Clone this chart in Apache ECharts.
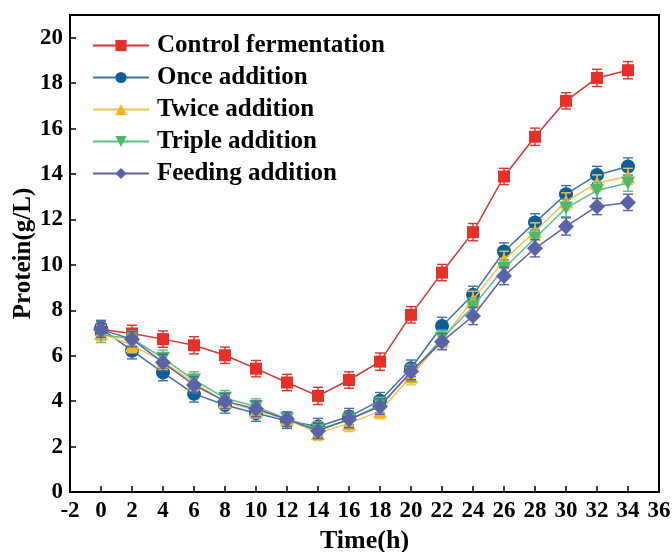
<!DOCTYPE html>
<html>
<head>
<meta charset="utf-8">
<script src="https://cdn.jsdelivr.net/npm/echarts@6/dist/echarts.min.js"></script>
<style>
  html, body { margin: 0; padding: 0; background: #fff; }
  #chart { width: 672px; height: 552px; }
</style>
</head>
<body>
<div id="chart"></div>
<script>
// Sampling times (h)
const times = [0, 2, 4, 6, 8, 10, 12, 14, 16, 18, 20, 22, 24, 26, 28, 30, 32, 34];
const xTicks = [-2, 0, 2, 4, 6, 8, 10, 12, 14, 16, 18, 20, 22, 24, 26, 28, 30, 32, 34, 36];
const yTicks = [0, 2, 4, 6, 8, 10, 12, 14, 16, 18, 20];

const seriesNames = ['Control fermentation', 'Once addition', 'Twice addition', 'Triple addition', 'Feeding addition'];

// Protein concentration (g/L)
const controlMean = [7.15, 6.98, 6.73, 6.46, 6.02, 5.43, 4.82, 4.23, 4.93, 5.74, 7.80, 9.66, 11.44, 13.89, 15.64, 17.22, 18.23, 18.57];
const onceMean    = [7.20, 6.22, 5.26, 4.32, 3.83, 3.47, 3.14, 2.88, 3.32, 4.02, 5.45, 7.31, 8.68, 10.59, 11.87, 13.11, 13.96, 14.33];
const twiceMean   = [7.00, 6.47, 5.74, 4.82, 3.98, 3.60, 3.20, 2.60, 3.02, 3.56, 5.08, 6.70, 8.46, 10.22, 11.47, 12.79, 13.60, 13.89];
const tripleMean  = [6.92, 6.75, 5.89, 4.93, 4.13, 3.76, 3.22, 2.76, 3.17, 3.83, 5.23, 6.77, 8.16, 9.85, 11.17, 12.50, 13.27, 13.60];
const feedingMean = [7.15, 6.73, 5.70, 4.71, 4.00, 3.66, 3.20, 2.69, 3.20, 3.76, 5.30, 6.62, 7.75, 9.51, 10.73, 11.69, 12.57, 12.75];

// Standard deviations (g/L)
const controlSd = [0.38, 0.36, 0.36, 0.38, 0.36, 0.36, 0.36, 0.38, 0.36, 0.38, 0.36, 0.36, 0.38, 0.36, 0.38, 0.36, 0.38, 0.38];
const onceSd    = [0.36, 0.36, 0.36, 0.36, 0.36, 0.36, 0.34, 0.36, 0.36, 0.36, 0.36, 0.38, 0.38, 0.38, 0.38, 0.38, 0.38, 0.38];
const twiceSd   = [0.34, 0.34, 0.36, 0.36, 0.34, 0.34, 0.32, 0.34, 0.36, 0.34, 0.36, 0.36, 0.38, 0.38, 0.38, 0.38, 0.36, 0.36];
const tripleSd  = [0.34, 0.34, 0.36, 0.36, 0.34, 0.34, 0.32, 0.34, 0.36, 0.34, 0.36, 0.36, 0.38, 0.38, 0.38, 0.38, 0.36, 0.36];
const feedingSd = [0.34, 0.34, 0.36, 0.36, 0.34, 0.34, 0.32, 0.34, 0.36, 0.34, 0.36, 0.36, 0.38, 0.38, 0.38, 0.38, 0.36, 0.36];

const means = [controlMean, onceMean, twiceMean, tripleMean, feedingMean];
const sds = [controlSd, onceSd, twiceSd, tripleSd, feedingSd];

const markerColors = ['#E8302A', '#0E5E98', '#F8B319', '#4DB86E', '#5A63A8'];
const lineColors   = ['#D9332D', '#3E72A8', '#F3C255', '#5EBE84', '#5A63A8'];
// square, circle, up-triangle, down-triangle, diamond
const symbols = ['rect', 'circle', 'triangle', 'path://M0,0 L10,0 L5,9 Z', 'diamond'];
const symbolSizes = [12, 14, 14, [14, 13], 16];

const font = '"Liberation Serif", "Times New Roman", serif';

const chart = echarts.init(document.getElementById('chart'), null, { renderer: 'canvas' });

function errorSeries(i) {
  const data = times.map((t, k) => [t, means[i][k] - sds[i][k], means[i][k] + sds[i][k]]);
  return {
    type: 'custom',
    name: 'err-' + i,
    z: 2 + i * 2,
    silent: true,
    data: data,
    encode: { x: 0, y: [1, 2] },
    renderItem: function (params, api) {
      const x = api.value(0);
      const lo = api.coord([x, api.value(1)]);
      const hi = api.coord([x, api.value(2)]);
      const cap = 5;
      const style = { stroke: lineColors[i], lineWidth: 1.4, fill: null };
      return {
        type: 'group',
        children: [
          { type: 'line', shape: { x1: lo[0], y1: lo[1], x2: hi[0], y2: hi[1] }, style: style },
          { type: 'line', shape: { x1: lo[0] - cap, y1: lo[1], x2: lo[0] + cap, y2: lo[1] }, style: style },
          { type: 'line', shape: { x1: hi[0] - cap, y1: hi[1], x2: hi[0] + cap, y2: hi[1] }, style: style }
        ]
      };
    }
  };
}

const series = [];
seriesNames.forEach((name, i) => {
  series.push({
    type: 'line',
    name: name,
    z: 3 + i * 2,
    data: times.map((t, k) => [t, means[i][k]]),
    symbol: symbols[i],
    symbolSize: symbolSizes[i],
    showAllSymbol: true,
    lineStyle: { color: lineColors[i], width: 1.5 },
    itemStyle: { color: markerColors[i], borderWidth: 0 },
    emphasis: { disabled: true },
    animation: false
  });
  series.push(errorSeries(i));
});

const option = {
  animation: false,
  backgroundColor: '#ffffff',
  grid: {
    left: 70, right: 13, top: 15, bottom: 60,
    outerBoundsMode: 'none',
    containLabel: false,
    show: true, borderColor: '#000', borderWidth: 2, backgroundColor: 'transparent'
  },
  legend: {
    data: seriesNames,
    orient: 'vertical',
    left: 87,
    top: 28,
    itemWidth: 56,
    itemHeight: 14,
    itemGap: 7,
    textStyle: { fontFamily: font, fontWeight: 'bold', fontSize: 25, color: '#000', padding: [0, 0, 0, 3] },
    selectedMode: false
  },
  xAxis: {
    type: 'value',
    min: xTicks[0],
    max: xTicks[xTicks.length - 1],
    interval: 2,
    name: 'Time(h)',
    nameLocation: 'middle',
    nameGap: 36,
    nameMoveOverlap: false,
    nameTextStyle: { fontFamily: font, fontWeight: 'bold', fontSize: 26, color: '#000' },
    axisLine: { show: true, onZero: false, lineStyle: { color: '#000', width: 2 } },
    axisTick: { show: true, inside: true, length: 6, lineStyle: { color: '#000', width: 1.5 } },
    axisLabel: { fontFamily: font, fontWeight: 'bold', fontSize: 23, color: '#000', margin: 8 },
    splitLine: { show: false }
  },
  yAxis: {
    type: 'value',
    min: yTicks[0],
    max: 21,
    interval: 2,
    name: 'Protein(g/L)',
    nameLocation: 'middle',
    nameGap: 34,
    nameMoveOverlap: false,
    nameRotate: 90,
    nameTextStyle: { fontFamily: font, fontWeight: 'bold', fontSize: 25, color: '#000' },
    axisLine: { show: true, onZero: false, lineStyle: { color: '#000', width: 2 } },
    axisTick: { show: true, inside: true, length: 6, lineStyle: { color: '#000', width: 1.5 } },
    axisLabel: {
      fontFamily: font, fontWeight: 'bold', fontSize: 23, color: '#000', margin: 7,
      formatter: function (v) { return yTicks.indexOf(v) >= 0 ? String(v) : ''; }
    },
    splitLine: { show: false }
  },
  series: series
};

chart.setOption(option);
</script>
</body>
</html>
